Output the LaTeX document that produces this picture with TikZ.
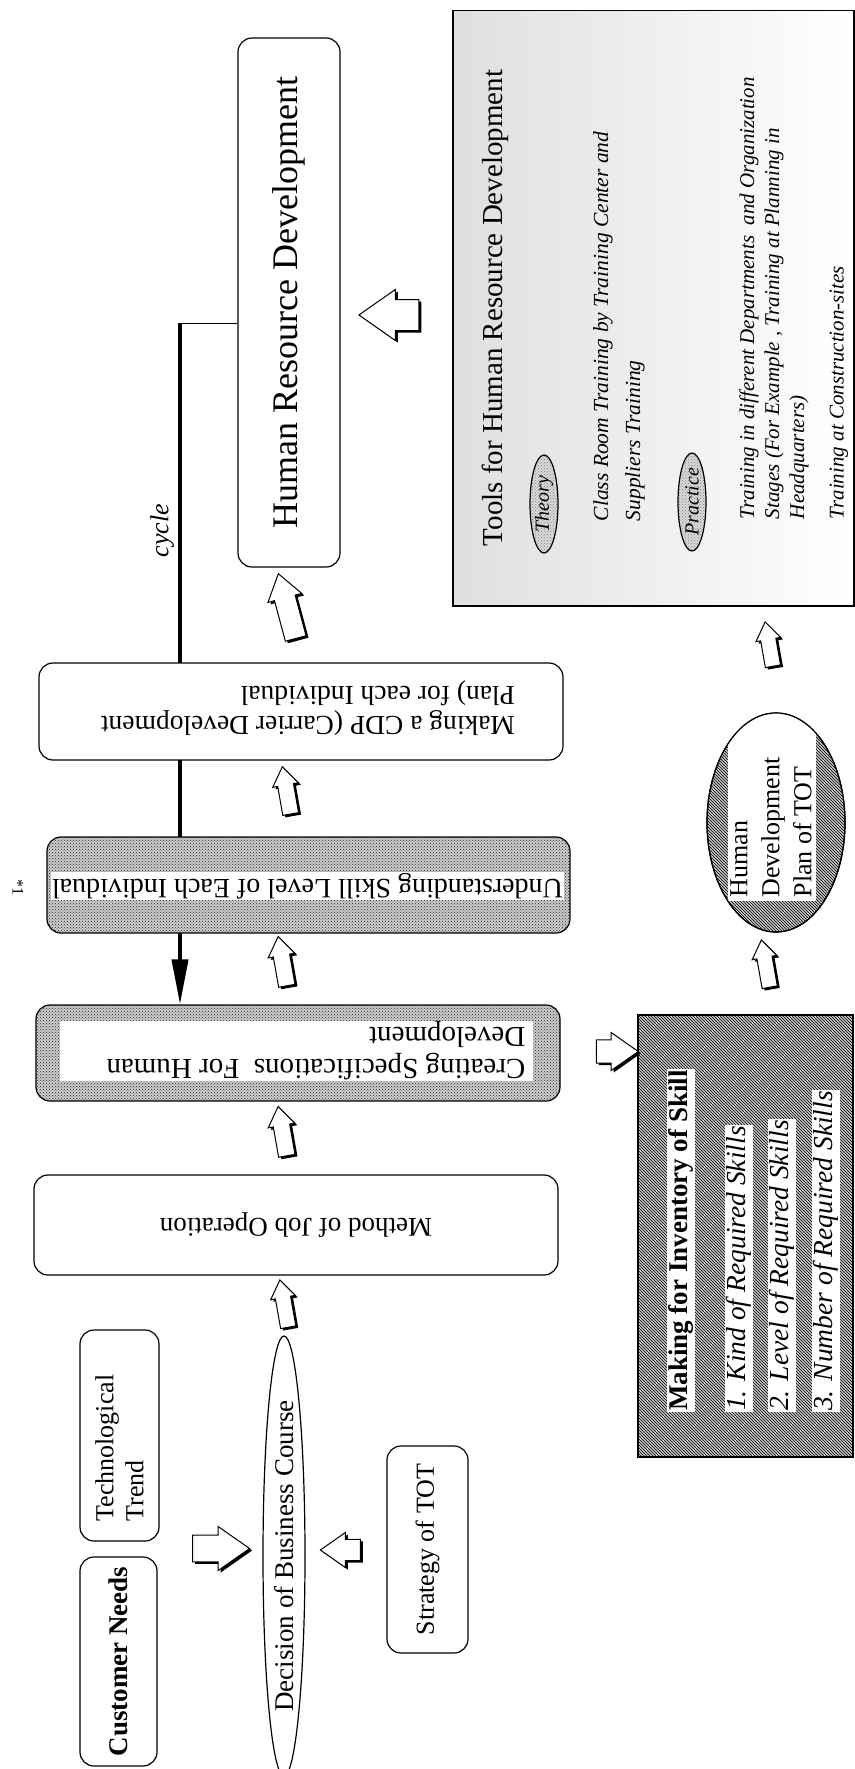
\documentclass[tikz,border=0pt]{standalone}
\usepackage{fontspec}
\setmainfont{Liberation Serif}
\usetikzlibrary{arrows.meta, positioning, calc, patterns, backgrounds, shapes.geometric, shapes.arrows, shadows}
\newcommand{\fsz}[2]{\fontsize{#1}{#2}\selectfont}
\tikzset{
    diagram/.style={x=1pt, y=-1pt, line width=1.2pt, font=\fsz{27}{32}},
    roundbox/.style={draw, rounded corners=14pt, fill=white, inner sep=2pt, align=center},
    upright/.style={rotate=90},   % text read from bottom to top
    flipped/.style={rotate=180},  % text printed upside down
    dotshade/.style={preaction={fill=gray!40}, pattern=crosshatch dots, pattern color=black!85},
    lineshade/.style={preaction={fill=gray!45}, pattern=north west lines, pattern color=black},
    whitestrip/.style={fill=white, inner sep=1.5pt},
    tag/.style={draw, ellipse, upright, minimum width=98, minimum height=28, inner sep=0pt,
        preaction={fill=gray!30}, pattern=crosshatch dots, pattern color=gray, font=\itshape\fsz{20}{22}},
    % #1 = full width of the arrow head
    fatarrow/.style={single arrow, draw, fill=white, line width=1pt, inner xsep=0pt, inner ysep=0.3*#1,
        minimum width=#1, single arrow head extend=0.2*#1, single arrow tip angle=70, single arrow head indent=0pt,
        drop shadow={shadow xshift=2.5pt, shadow yshift=-2pt, opacity=1, fill=black}},
}
\begin{document}
\begin{tikzpicture}[diagram]
    \useasboundingbox (0,0) rectangle (854,1769);

    % inputs of the business course
    \node[roundbox, upright, minimum width=209, minimum height=77, font=\bfseries\fsz{27}{32}] (cust) at (118.5,1661.5) {Customer Needs};
    \node[roundbox, upright, minimum width=211, minimum height=79, text width=172, align=left, font=\fsz{26}{30}] (tech) at (119.5,1435.5) {Technological\\Trend};
    \node[draw, ellipse, upright, minimum width=422, minimum height=42, inner sep=0pt, fill=white] (dec) at (284,1556) {Decision of Business Course};
    \node[roundbox, upright, minimum width=207, minimum height=81, font=\fsz{26}{30}] (strat) at (427.5,1549.5) {Strategy of TOT};

    % main chain
    \node[roundbox, flipped, minimum width=524, minimum height=100] (method) at (296,1225) {Method of Job Operation};
    \node[roundbox, dotshade, minimum width=524, minimum height=96] (create) at (298,1053) {};
    \node[fill=white, minimum width=473, minimum height=60, inner sep=0pt] (createin) at (296.5,1051) {};
    \node[flipped, align=left, font=\fsz{29}{32}] (createtxt) at (316,1051) {Creating Specifications~ For Human\\Development};
    \node[roundbox, dotshade, minimum width=523, minimum height=96] (under) at (308.5,885) {};
    \node[flipped, whitestrip, font=\fsz{28}{32}] (undertxt) at (307.5,886) {Understanding Skill Level of Each Individual};
    \node[roundbox, minimum width=524, minimum height=97] (cdp) at (301,711.5) {};
    \node[flipped, align=left, font=\fsz{27.5}{30}] (cdptxt) at (308,708) {Making a CDP (Carrier Development\\Plan) for each Individual};
    \node[roundbox, upright, minimum width=529, minimum height=102, font=\fsz{36}{40}] (hrd) at (289,302.5) {Human Resource Development};
    \node[rotate=-90, font=\fsz{16}{18}] (note) at (18,887) {*1};

    % skill inventory
    \node[draw, lineshade, line width=2pt, minimum width=215, minimum height=442, inner sep=0pt] (making) at (745.5,1236) {};
    \node[upright, whitestrip, anchor=west, font=\bfseries\fsz{27}{30}] (makehead) at (681,1413) {Making for Inventory of Skill};
    \node[upright, whitestrip, anchor=west, font=\itshape\fsz{27.5}{30}] (kind) at (739,1413) {1. Kind of Required Skills};
    \node[upright, whitestrip, anchor=west, font=\itshape\fsz{27.5}{30}] (level) at (782,1413) {2. Level of Required Skills};
    \node[upright, whitestrip, anchor=west, font=\itshape\fsz{27.5}{30}] (number) at (826,1413) {3. Number of Required Skills};

    % development plan
    \node[draw, ellipse, lineshade, minimum width=138, minimum height=219, inner sep=0pt] (plan) at (776,822.5) {};
    \begin{scope}
        \clip (plan.center) ellipse [x radius=69, y radius=109.5];
        \fill[white] (728,712) rectangle (816,901);
    \end{scope}
    \draw (plan.center) ellipse [x radius=69, y radius=109.5];
    \node[upright, anchor=west, align=left, inner sep=0pt, font=\fsz{26}{32}] (plantxt) at (771,898) {Human\\Development\\Plan of TOT};

    % tools
    \node[draw, anchor=north west, minimum width=401, minimum height=595, inner sep=0pt, left color=gray!25, right color=white, line width=1.5pt] (tools) at (452,10) {};
    \node[upright, anchor=west, font=\fsz{29}{32}] (toolhead) at (495,550) {Tools for Human Resource Development};
    \node[tag] (theory) at (544,504) {Theory};
    \node[upright, anchor=west, align=left, font=\itshape\fsz{21.5}{32}] (theorytxt) at (619,525) {Class Room Training by Training Center and\\Suppliers Training};
    \node[tag] (practice) at (692,502) {Practice};
    \node[upright, anchor=west, align=left, font=\itshape\fsz{21}{25}] (practicetxt) at (774,523) {Training in different Departments~ and Organization\\Stages (For Example , Training at Planning in\\Headquarters)};
    \node[upright, anchor=west, font=\itshape\fsz{21}{25}] (sitetxt) at (839,523) {Training at Construction-sites};

    % block arrows
    \node[fatarrow=43, minimum height=57] (a1) at (211.5,1548.5) {};
    \node[fatarrow=34, minimum height=40, rotate=180] (a2) at (348,1550) {};
    \node[fatarrow=24, minimum height=48, rotate=100] (a3) at (285,1309) {};
    \node[fatarrow=26, minimum height=50, rotate=100] (a4) at (283.5,1137) {};
    \node[fatarrow=26, minimum height=50, rotate=100] (a5) at (283.5,967) {};
    \node[fatarrow=25, minimum height=48, rotate=100] (a6) at (287.5,796) {};
    \node[fatarrow=34, minimum height=67, rotate=105] (a7) at (289,613.5) {};
    \node[fatarrow=50, minimum height=60, rotate=180] (a8) at (400,315) {};
    \node[fatarrow=37, minimum height=42] (a9) at (609,1051.5) {};
    \node[fatarrow=24, minimum height=48, rotate=100] (a10) at (766.5,969) {};
    \node[fatarrow=24, minimum height=45, rotate=100] (a11) at (770,649.5) {};

    % cycle back to the specifications
    \coordinate (cyc) at (180,323);
    \begin{scope}[on background layer]
        \draw[line width=1pt] (hrd.north |- cyc) -- (cyc);
        \draw[line width=4pt, -{Triangle[length=45pt, width=16pt]}] (cyc) -- node[pos=0.305, rotate=90, anchor=south, inner sep=4pt, font=\itshape\fsz{26}{28}] (cyclelbl) {cycle} (cyc |- create.north);
    \end{scope}
\end{tikzpicture}
\end{document}
